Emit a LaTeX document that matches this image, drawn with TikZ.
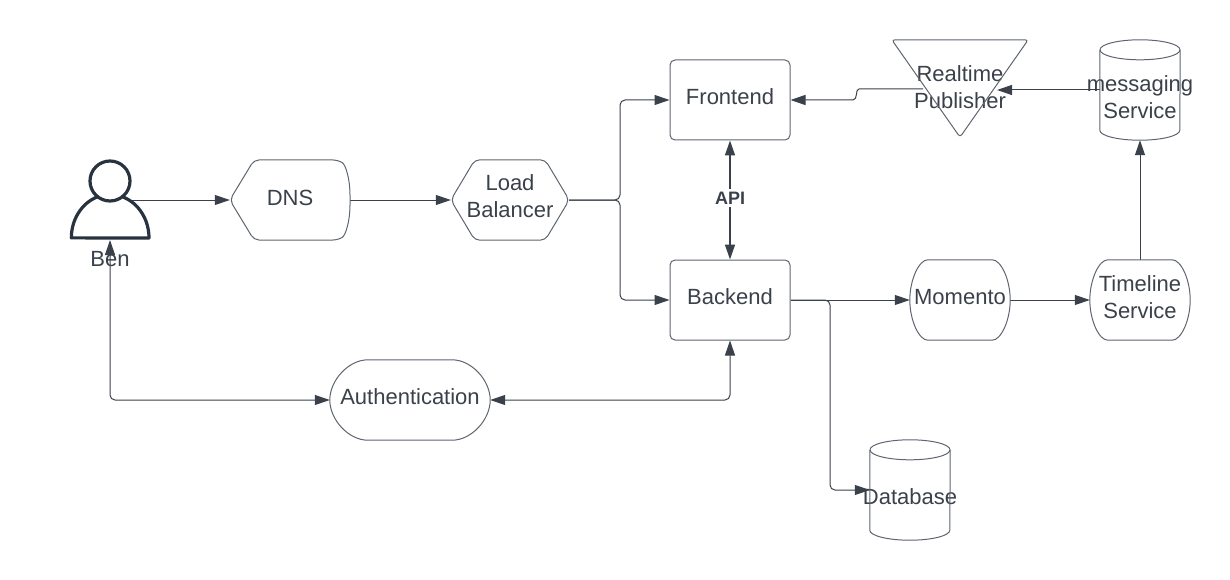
\documentclass[tikz,border=0pt]{standalone}
\usepackage{fontspec}
\setmainfont{Liberation Sans}
\usetikzlibrary{arrows.meta,backgrounds}
\definecolor{ink}{HTML}{3A414A}
\definecolor{edge}{HTML}{5E6570}
\definecolor{userink}{HTML}{28333F}
\tikzset{
    box/.style={inner sep=0pt,text=ink,font=\fontsize{22}{27}\selectfont},
    outline/.style={draw=edge,line width=1pt,line join=round},
    conn/.style={draw=ink,line width=1pt,rounded corners=5pt},
    >={Triangle[length=15pt,width=10pt]}
}
\newcommand{\txt}[2]{\makebox[0pt]{\raisebox{#1}[0pt][0pt]{\begin{tabular}[c]{@{}c@{}}#2\end{tabular}}}}
\newcommand{\termshape}[2]{\draw[outline] (#1.west) .. controls +(0,-20) and +(-#2/2,0) .. ([xshift=#2]#1.north west) -- ([xshift=-#2]#1.north east) .. controls +(#2/2,0) and +(0,-20) .. (#1.east) .. controls +(0,20) and +(#2/2,0) .. ([xshift=-#2]#1.south east) -- ([xshift=#2]#1.south west) .. controls +(-#2/2,0) and +(0,20) .. (#1.west) -- cycle;}
\newcommand{\cylshape}[1]{\draw[outline] (#1.north) ++(0,10) ellipse [x radius=40,y radius=10];
    \draw[outline] ([yshift=-10]#1.north west) -- ([yshift=10]#1.south west) arc[start angle=180,end angle=0,x radius=40,y radius=10] -- ([yshift=-10]#1.north east);}
\begin{document}
\begin{tikzpicture}[x=1pt,y=-1pt]
    \useasboundingbox (0,0) rectangle (1230,580);
    \node[box] (ben) at (110,259) {\txt{-7.4pt}{Ben}};
    \coordinate (benout) at (128,200);
    \coordinate (benin) at (110,240);
    \node[box,minimum width=120pt,minimum height=80pt] (dns) at (290,200) {\txt{-5pt}{DNS}};
    \node[box,minimum width=118pt,minimum height=80pt] (lb) at (510,200) {\txt{-3.4pt}{Load\\Balancer}};
    \node[box,minimum width=120pt,minimum height=80pt,outline,rounded corners=5pt] (front) at (730,100) {\txt{-4.4pt}{Frontend}};
    \node[box,minimum width=120pt,minimum height=80pt,outline,rounded corners=5pt] (back) at (730,300) {\txt{-4.4pt}{Backend}};
    \node[box,minimum width=136pt,minimum height=97pt] (pub) at (960,88.5) {\txt{-6.4pt}{Realtime\\Publisher}};
    \coordinate (pubin) at (997,90);
    \coordinate (pubout) at (923,89);
    \node[box,minimum width=80pt,minimum height=100pt] (msg) at (1140,90) {\txt{-14.4pt}{messaging\\Service}};
    \node[box,minimum width=160pt,minimum height=80pt] (auth) at (410,400) {\txt{-4.4pt}{Authentication}};
    \node[box,minimum width=100pt,minimum height=80pt] (momento) at (960,300) {\txt{-4.4pt}{Momento}};
    \node[box,minimum width=100pt,minimum height=80pt] (timeline) at (1140,300) {\txt{-4.4pt}{Timeline\\Service}};
    \node[box,minimum width=80pt,minimum height=100pt] (db) at (910,490) {\txt{-14.4pt}{Database}};
    \node[text=ink,fill=white,inner xsep=1pt,inner ysep=3pt,font=\fontsize{18}{20}\selectfont\bfseries] (api) at (730,198) {API};

    \draw[line width=3.2pt,draw=userink] (110,181) circle [radius=20];
    \draw[line width=3.2pt,draw=userink,line join=round] (97,197) arc[start angle=250,end angle=180,x radius=39,y radius=43.5] -- (149,238) arc[start angle=0,end angle=-70,x radius=39,y radius=43.5];
    \draw[outline,rounded corners=5pt] (dns.north) -- (338,160) .. controls (346,165) and (350,180) .. (350,200) .. controls (350,220) and (346,235) .. (338,240) -- (254,240) -- (dns.west) -- (254,160) -- cycle;
    \draw[outline,rounded corners=5pt] (lb.north) -- ([xshift=-24]lb.north east) -- (lb.east) -- ([xshift=-24]lb.south east) -- ([xshift=24]lb.south west) -- (lb.west) -- ([xshift=24]lb.north west) -- cycle;
    \draw[outline,rounded corners=3pt] (pub.north) -- (pub.north east) -- (pub.south) -- (pub.north west) -- cycle;
    \cylshape{msg}
    \cylshape{db}
    \termshape{auth}{38}
    \termshape{momento}{18}
    \termshape{timeline}{18}

    \begin{scope}[on background layer]
        \draw[conn,->] (benout) -- (dns.west);
        \draw[conn,->] (dns.east) -- (lb.west);
        \draw[conn,->] (lb.east) -- (620,200) -- (620,100) -- (front.west);
        \draw[conn,->] (lb.east) -- (620,200) -- (620,300) -- (back.west);
        \draw[conn,<->,line width=1.5pt] (front.south) -- (back.north);
        \draw[conn,->,rounded corners=2pt] (pubout) -- (861,89) .. controls (855,89) and (858,100) .. (851,100) -- (front.east);
        \draw[conn,->] (msg.west) -- (pubin);
        \draw[conn,->] (timeline.north) -- (msg.south);
        \draw[conn,->] (back.east) -- (momento.west);
        \draw[conn,->] (momento.east) -- (timeline.west);
        \draw[conn,->] (back.east) -- (830,300) -- (830,490) -- (db.west);
        \draw[conn,<->] (benin) -- (110,400) -- (auth.west);
        \draw[conn,<->] (auth.east) -- (730,400) -- (back.south);
    \end{scope}
\end{tikzpicture}
\end{document}
